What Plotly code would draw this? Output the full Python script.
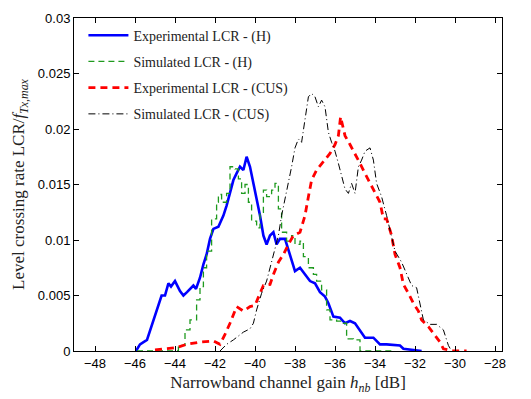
import plotly.graph_objects as go

# Experimental LCR - (H)
exp_h_x = [-45.95, -45.75, -45.4, -45.08, -44.67, -44.5, -44.33, -44.2, -44.0, -43.75, -43.58, -43.4,
           -43.08, -42.95, -42.75, -42.58, -42.42, -42.25, -42.08, -41.83, -41.58, -41.42, -41.25,
           -41.08, -40.92, -40.75, -40.58, -40.42, -40.25, -40.08, -39.92, -39.75, -39.58, -39.42,
           -39.25, -39.08, -38.92, -38.75, -38.5, -38.25, -38.0, -37.75, -37.5, -37.25, -37.0,
           -36.75, -36.5, -36.33, -36.08, -35.75, -35.5, -35.25, -35.0, -34.75, -34.5, -34.08,
           -33.75, -33.42, -32.75, -32.58, -31.67]
exp_h_y = [0.0, 0.0006, 0.001, 0.0028, 0.005, 0.005, 0.0061, 0.0058, 0.0063, 0.0054, 0.005, 0.0053,
           0.0059, 0.0056, 0.0066, 0.0078, 0.0087, 0.0101, 0.011, 0.0112, 0.0122, 0.0131, 0.0142,
           0.0154, 0.016, 0.0166, 0.0163, 0.0175, 0.0166, 0.0151, 0.0139, 0.0122, 0.0104, 0.0096,
           0.0104, 0.0107, 0.0096, 0.0101, 0.0101, 0.0087, 0.0072, 0.0075, 0.0069, 0.0063, 0.0061,
           0.0053, 0.0049, 0.0043, 0.0031, 0.003, 0.0025, 0.0027, 0.0025, 0.0019, 0.0012, 0.0012,
           0.0006, 0.0006, 0.0005, 0.0002, 0.0]

# Simulated LCR - (H)
sim_h_x = [-45.9, -44.5, -43.83, -43.5, -43.25, -42.92, -42.75, -42.58, -42.42, -42.17, -41.92, -41.83,
           -41.67, -41.42, -41.25, -41.0, -40.83, -40.67, -40.5, -40.33, -40.17, -39.92, -39.75,
           -39.58, -39.42, -39.17, -39.0, -38.83, -38.67, -38.42, -38.17, -38.0, -37.75, -37.58,
           -37.33, -37.08, -36.92, -36.67, -36.42, -36.25, -35.92, -35.58, -35.42, -35.08, -34.75,
           -33.0]
sim_h_y = [0.0, 0.0, 0.0005, 0.0019, 0.0028, 0.0046, 0.0058, 0.0075, 0.009, 0.0119, 0.0134, 0.0141,
           0.0134, 0.0142, 0.0166, 0.0164, 0.0155, 0.0142, 0.015, 0.0134, 0.0117, 0.0111, 0.0125,
           0.0145, 0.0139, 0.0145, 0.0151, 0.0128, 0.0107, 0.0099, 0.0104, 0.0096, 0.0099, 0.0085,
           0.0075, 0.0069, 0.0063, 0.0055, 0.0037, 0.0028, 0.0027, 0.0025, 0.0011, 0.001, 0.0,
           0.0]

# Experimental LCR - (CUS)
exp_c_x = [-45.0, -44.42, -43.92, -43.42, -42.75, -42.08, -41.75, -41.5, -41.25, -40.92, -40.58,
           -40.25, -40.0, -39.75, -39.58, -39.25, -39.08, -38.83, -38.58, -38.33, -38.08, -37.75,
           -37.5, -37.33, -37.17, -36.92, -36.67, -36.42, -36.25, -36.0, -35.83, -35.72, -35.5,
           -35.25, -35.0, -34.75, -34.5, -34.25, -34.0, -33.75, -33.58, -33.42, -33.17, -33.0,
           -32.75, -32.58, -32.33, -32.08, -31.83, -31.67, -31.33, -31.08, -30.75, -30.58, -30.08,
           -29.42]
exp_c_y = [0.0001, 0.0002, 0.0003, 0.0006, 0.0008, 0.0009, 0.0006, 0.0015, 0.0025, 0.004, 0.0036,
           0.004, 0.0041, 0.0052, 0.0059, 0.006, 0.0069, 0.008, 0.0087, 0.0096, 0.0104, 0.0107,
           0.0122, 0.0139, 0.0154, 0.0163, 0.0169, 0.0175, 0.0178, 0.0186, 0.0194, 0.0211, 0.0194,
           0.0186, 0.0178, 0.0169, 0.016, 0.0151, 0.0142, 0.0134, 0.0119, 0.0119, 0.0104, 0.0087,
           0.0075, 0.006, 0.0052, 0.0043, 0.0036, 0.0028, 0.0022, 0.0016, 0.0008, 0.0002, 0.0,
           0.0]

# Simulated LCR - (CUS)
sim_c_x = [-41.75, -41.42, -41.08, -40.58, -40.25, -40.08, -39.92, -39.67, -39.42, -39.17, -39.0,
           -38.83, -38.67, -38.5, -38.33, -38.17, -38.0, -37.83, -37.67, -37.5, -37.33, -37.17,
           -37.0, -36.83, -36.67, -36.5, -36.33, -36.17, -36.0, -35.83, -35.67, -35.5, -35.33,
           -35.17, -35.0, -34.83, -34.67, -34.5, -34.25, -34.08, -33.92, -33.67, -33.42, -33.17,
           -33.0, -32.67, -32.42, -32.17, -31.92, -31.75, -31.58, -31.25, -30.92, -30.58, -30.33,
           -30.17]
sim_c_y = [0.0, 0.0006, 0.001, 0.0017, 0.002, 0.0025, 0.0037, 0.0052, 0.0063, 0.008, 0.0092,
           0.0104, 0.0122, 0.0136, 0.0151, 0.0166, 0.0183, 0.0191, 0.0188, 0.0211, 0.0229, 0.0232,
           0.0229, 0.022, 0.0226, 0.022, 0.0197, 0.0188, 0.018, 0.0169, 0.0157, 0.0146, 0.0142,
           0.0151, 0.0142, 0.0166, 0.0172, 0.018, 0.0183, 0.0172, 0.0151, 0.0139, 0.0122, 0.0104,
           0.009, 0.008, 0.0069, 0.0059, 0.0057, 0.0041, 0.0028, 0.0024, 0.0024, 0.0019, 0.0005,
           0.0]

x_ticks = [-48, -46, -44, -42, -40, -38, -36, -34, -32, -30, -28]
y_ticks = [0, 0.005, 0.01, 0.015, 0.02, 0.025, 0.03]
y_tick_text = ["0", "0.005", "0.01", "0.015", "0.02", "0.025", "0.03"]

SERIF = "Liberation Serif"

fig = go.Figure()
fig.add_trace(go.Scatter(x=exp_h_x, y=exp_h_y, mode="lines", name="Experimental LCR - (H)",
                         legendgroup="a", line=dict(color="#0000ff", width=2.6)))
fig.add_trace(go.Scatter(x=sim_h_x, y=sim_h_y, mode="lines", name="Simulated LCR - (H)",
                         legendgroup="b", line=dict(color="#1f9a1f", width=1.3, dash="6px,4px"),
                         line_shape="hv"))
fig.add_trace(go.Scatter(x=exp_c_x, y=exp_c_y, mode="lines", name="Experimental LCR - (CUS)",
                         legendgroup="c", line=dict(color="#ff0000", width=2.8, dash="7px,5px")))
fig.add_trace(go.Scatter(x=sim_c_x, y=sim_c_y, mode="lines", name="Simulated LCR - (CUS)",
                         legendgroup="d", line=dict(color="#000000", width=1.0, dash="7px,3px,1px,3px")))

axis_common = dict(showline=True, linecolor="black", linewidth=1, mirror="ticks", ticks="inside",
                   ticklen=5, tickcolor="black", showgrid=False, zeroline=False,
                   tickfont=dict(family="Liberation Sans", size=13, color="black"))

fig.update_layout(
    width=531, height=399,
    margin=dict(l=74, r=29, t=11, b=47),
    paper_bgcolor="white", plot_bgcolor="white",
    xaxis=dict(range=[-49.05, -27.65], tickvals=x_ticks,
               title=dict(text="Narrowband channel gain <i>h</i><sub><i>nb</i></sub> [dB]",
                          font=dict(family=SERIF, size=17, color="#222"),
                          standoff=6),
               **axis_common),
    yaxis=dict(range=[0, 0.03], tickvals=y_ticks, ticktext=y_tick_text,
               title=dict(text="Level crossing rate LCR/<i>f</i><sub><i>Tx,max</i></sub>",
                          font=dict(family=SERIF, size=17, color="#222"),
                          standoff=8),
               **axis_common),
    showlegend=True,
    legend=dict(x=0.022, y=0.995, xanchor="left", yanchor="top", bgcolor="rgba(0,0,0,0)",
                font=dict(family=SERIF, size=14, color="#222"),
                itemwidth=40, tracegroupgap=5, traceorder="grouped"),
)

fig.write_html("out.html")
